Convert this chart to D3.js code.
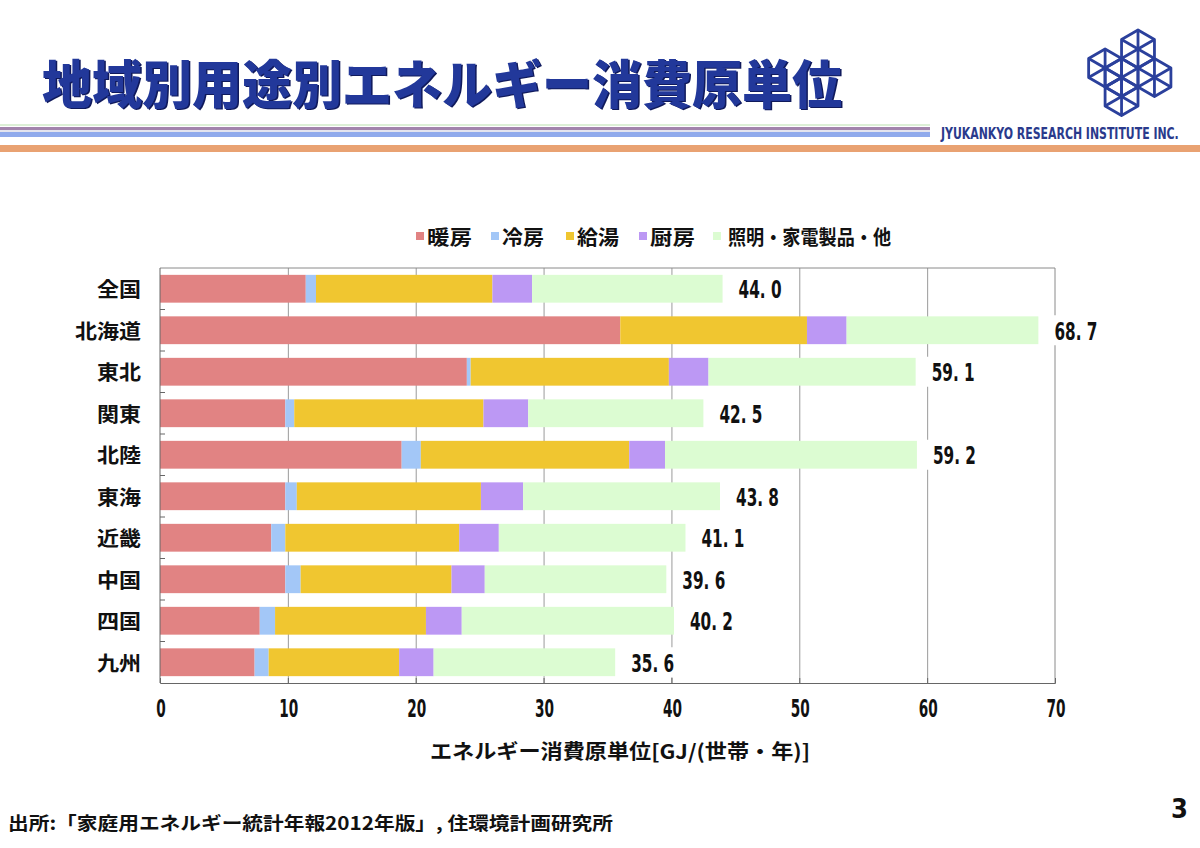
<!DOCTYPE html>
<html>
<head>
<meta charset="utf-8">
<script src="https://cdn.jsdelivr.net/npm/d3@7"></script>
<style>
  body { margin: 0; background: #ffffff; }
  svg { display: block; }
</style>
</head>
<body>
<script>
// regions (top to bottom) and the five end uses, GJ per household per year
const regions = ["全国", "北海道", "東北", "関東", "北陸", "東海", "近畿", "中国", "四国", "九州"];
const heating  = [11.4, 36.0, 24.0,  9.8, 18.9,  9.8,  8.7,  9.8,  7.8,  7.4];
const cooling  = [ 0.8,  0.0,  0.3,  0.7,  1.5,  0.9,  1.1,  1.2,  1.2,  1.1];
const hotWater = [13.8, 14.6, 15.5, 14.8, 16.3, 14.4, 13.6, 11.8, 11.8, 10.2];
const cooking  = [ 3.1,  3.1,  3.1,  3.5,  2.8,  3.3,  3.1,  2.6,  2.8,  2.7];
const lighting = [14.9, 15.0, 16.2, 13.7, 19.7, 15.4, 14.6, 14.2, 16.6, 14.2];
const totals   = [44.0, 68.7, 59.1, 42.5, 59.2, 43.8, 41.1, 39.6, 40.2, 35.6];

const seriesNames = ["暖房", "冷房", "給湯", "厨房", "照明・家電製品・他"];
const seriesKeys = ["heating", "cooling", "hotWater", "cooking", "lighting"];
const seriesColors = ["#e18383", "#a3c7f7", "#f0c630", "#bc98f4", "#dcfcd2"];
const xTicks = [0, 10, 20, 30, 40, 50, 60, 70];

const W = 1200, H = 848;
const cjk = "'Noto Sans CJK JP', 'Noto Sans', sans-serif";
const narrow = "'Liberation Sans Narrow', 'DejaVu Sans Condensed', 'Liberation Sans', sans-serif";
const navy = "#22389a";

const svg = d3.select("body").append("svg")
  .attr("width", W)
  .attr("height", H)
  .attr("viewBox", `0 0 ${W} ${H}`);

// ---- header ----
svg.append("text")
  .attr("x", 43.5).attr("y", 82.5)
  .attr("dominant-baseline", "central")
  .attr("font-family", cjk).attr("font-weight", 900).attr("font-size", 52)
  .attr("textLength", 800).attr("lengthAdjust", "spacingAndGlyphs")
  .attr("fill", "#101a5c")
  .text("地域別用途別エネルギー消費原単位");
svg.append("text")
  .attr("x", 42).attr("y", 81)
  .attr("dominant-baseline", "central")
  .attr("font-family", cjk).attr("font-weight", 900).attr("font-size", 52)
  .attr("textLength", 800).attr("lengthAdjust", "spacingAndGlyphs")
  .attr("fill", navy)
  .text("地域別用途別エネルギー消費原単位");

// stripes under the title
svg.append("rect").attr("x", 0).attr("y", 124).attr("width", 930).attr("height", 2).attr("fill", "#dcefd6");
svg.append("rect").attr("x", 0).attr("y", 127).attr("width", 930).attr("height", 3).attr("fill", "#a284ac");
svg.append("rect").attr("x", 0).attr("y", 130).attr("width", 930).attr("height", 2).attr("fill", "#e4e4ee");
svg.append("rect").attr("x", 0).attr("y", 132).attr("width", 930).attr("height", 5).attr("fill", "#90aaec");
svg.append("rect").attr("x", 0).attr("y", 145).attr("width", W).attr("height", 7).attr("fill", "#e9a272");

// company name, squeezed to its width with a horizontal scale
const company = svg.append("g");
const companyText = company.append("text")
  .attr("x", 0).attr("y", 0)
  .attr("dominant-baseline", "central")
  .attr("font-family", narrow).attr("font-weight", 700).attr("font-size", 16)
  .attr("fill", "#2a3a8c")
  .text("JYUKANKYO RESEARCH INSTITUTE INC.");
const companyLen = companyText.node().getComputedTextLength() || 238;
company.attr("transform", `translate(941,133) scale(${238 / companyLen},1)`);

// logo: hexagons on one triangular lattice, each split into six triangles
const hexR = 19;
const ax = hexR * Math.sqrt(3) / 2, ay = hexR / 2;
const top0 = [1138, 49];
// lattice steps (i along (ax, ay), j along (0, hexR)) for each hexagon
const hexSteps = [[0, 0], [-2, 2], [1, 1], [-1, 3], [-1, 2]];
const logo = svg.append("g")
  .attr("fill", "none").attr("stroke", "#2b409c")
  .attr("stroke-width", 2.8).attr("stroke-linejoin", "round");
hexSteps.forEach(([i, j]) => {
  const cx = top0[0] + i * ax, cy = top0[1] + i * ay + j * hexR;
  const pts = d3.range(6).map(k => {
    const a = (-90 + 60 * k) * Math.PI / 180;
    return [cx + hexR * Math.cos(a), cy + hexR * Math.sin(a)];
  });
  logo.append("path").attr("d", "M" + pts.join("L") + "Z");
  pts.slice(0, 3).forEach((p, k) => {
    const q = pts[k + 3];
    logo.append("line").attr("x1", p[0]).attr("y1", p[1]).attr("x2", q[0]).attr("y2", q[1]);
  });
});

// ---- chart ----
const plot = { left: 160, right: 1055, top: 268, bottom: 683 };

const x = d3.scaleLinear().domain([0, 70]).range([plot.left, plot.right]);
const y = d3.scaleBand().domain(regions).range([plot.top, plot.bottom])
  .paddingInner(0.33).paddingOuter(0.165);
const color = d3.scaleOrdinal().domain(seriesKeys).range(seriesColors);

const rows = regions.map((r, i) => ({
  region: r,
  heating: heating[i], cooling: cooling[i], hotWater: hotWater[i],
  cooking: cooking[i], lighting: lighting[i], total: totals[i]
}));
const stacked = d3.stack().keys(seriesKeys)(rows);

// gridlines
svg.append("g")
  .attr("transform", `translate(0,${plot.bottom})`)
  .call(d3.axisBottom(x).tickValues(xTicks.slice(1, -1)).tickSize(-(plot.bottom - plot.top)).tickFormat(""))
  .call(g => g.select(".domain").remove())
  .call(g => g.selectAll("line").attr("stroke", "#9a9a9a").attr("stroke-width", 1));

// plot frame (top and right)
svg.append("path")
  .attr("d", `M${plot.left},${plot.top}H${plot.right}V${plot.bottom}`)
  .attr("fill", "none").attr("stroke", "#8a8a8a").attr("stroke-width", 1);

// bars
svg.append("g").selectAll("g")
  .data(stacked)
  .join("g")
  .attr("fill", d => color(d.key))
  .selectAll("rect")
  .data(d => d)
  .join("rect")
  .attr("x", d => x(d[0]))
  .attr("y", d => y(d.data.region))
  .attr("width", d => x(d[1]) - x(d[0]))
  .attr("height", y.bandwidth());

// total labels with white backing
const labels = svg.append("g");
labels.selectAll("rect")
  .data(rows)
  .join("rect")
  .attr("x", d => x(d.total) + 9)
  .attr("y", d => y(d.region) + y.bandwidth() / 2 - 15)
  .attr("width", 54)
  .attr("height", 30)
  .attr("fill", "#ffffff");
labels.selectAll("text")
  .data(rows)
  .join("text")
  .attr("x", d => x(d.total) + 16)
  .attr("y", d => y(d.region) + y.bandwidth() / 2 + 1)
  .attr("dominant-baseline", "central")
  .attr("font-family", narrow).attr("font-weight", 700).attr("font-size", 25)
  .attr("textLength", 43).attr("lengthAdjust", "spacingAndGlyphs")
  .attr("fill", "#111")
  .text(d => d.total.toFixed(1).replace(".", ". "));

// y axis with inward ticks between bands
const yAxis = svg.append("g");
yAxis.append("line")
  .attr("x1", plot.left).attr("x2", plot.left)
  .attr("y1", plot.top).attr("y2", plot.bottom)
  .attr("stroke", "#666");
yAxis.selectAll("line.tick")
  .data(regions.slice(1))
  .join("line")
  .attr("class", "tick")
  .attr("x1", plot.left).attr("x2", plot.left + 5)
  .attr("y1", d => y(d) - y.step() * y.paddingInner() / 2)
  .attr("y2", d => y(d) - y.step() * y.paddingInner() / 2)
  .attr("stroke", "#666");
yAxis.selectAll("text")
  .data(regions)
  .join("text")
  .attr("x", 141)
  .attr("y", d => y(d) + y.bandwidth() / 2)
  .attr("text-anchor", "end")
  .attr("dominant-baseline", "central")
  .attr("font-family", cjk).attr("font-weight", 700).attr("font-size", 20)
  .attr("textLength", d => d.length * 22).attr("lengthAdjust", "spacingAndGlyphs")
  .attr("fill", "#111")
  .text(d => d);

// x axis with inward ticks
svg.append("g")
  .attr("transform", `translate(0,${plot.bottom})`)
  .call(d3.axisBottom(x).tickValues(xTicks).tickSize(-5).tickPadding(0).tickFormat(""))
  .call(g => g.selectAll("line, .domain").attr("stroke", "#666"));
svg.append("g").selectAll("text")
  .data(xTicks)
  .join("text")
  .attr("x", d => x(d) + 1)
  .attr("y", 708)
  .attr("text-anchor", "middle")
  .attr("dominant-baseline", "central")
  .attr("font-family", narrow).attr("font-weight", 700).attr("font-size", 25)
  .attr("textLength", d => String(d).length * 9.5).attr("lengthAdjust", "spacingAndGlyphs")
  .attr("fill", "#111")
  .text(d => d);

svg.append("text")
  .attr("x", 430).attr("y", 750)
  .attr("dominant-baseline", "central")
  .attr("font-family", cjk).attr("font-weight", 700).attr("font-size", 20)
  .attr("textLength", 380).attr("lengthAdjust", "spacingAndGlyphs")
  .attr("fill", "#111")
  .text("エネルギー消費原単位[GJ/(世帯・年)]");

// legend
const legendX = [416, 491, 566, 639, 713];
const legendW = [45, 42, 42, 45, 163];
const legend = svg.append("g").selectAll("g")
  .data(seriesKeys)
  .join("g")
  .attr("transform", (d, i) => `translate(${legendX[i]},236)`);
legend.append("rect")
  .attr("x", 0).attr("y", -4).attr("width", 8).attr("height", 8)
  .attr("fill", d => color(d));
legend.append("text")
  .attr("x", (d, i) => i === 4 ? 15 : 11)
  .attr("y", 0)
  .attr("dominant-baseline", "central")
  .attr("font-family", cjk).attr("font-weight", 700).attr("font-size", 20)
  .attr("textLength", (d, i) => legendW[i]).attr("lengthAdjust", "spacingAndGlyphs")
  .attr("fill", "#111")
  .text((d, i) => seriesNames[i]);

// ---- footer ----
svg.append("text")
  .attr("x", 8).attr("y", 822)
  .attr("dominant-baseline", "central")
  .attr("font-family", cjk).attr("font-weight", 700).attr("font-size", 18)
  .attr("textLength", 605).attr("lengthAdjust", "spacingAndGlyphs")
  .attr("fill", "#111")
  .text("出所:「家庭用エネルギー統計年報2012年版」, 住環境計画研究所");

svg.append("text")
  .attr("x", 1188).attr("y", 808)
  .attr("text-anchor", "end")
  .attr("dominant-baseline", "central")
  .attr("font-family", narrow).attr("font-weight", 700).attr("font-size", 27)
  .attr("fill", "#111")
  .text("3");
</script>
</body>
</html>
